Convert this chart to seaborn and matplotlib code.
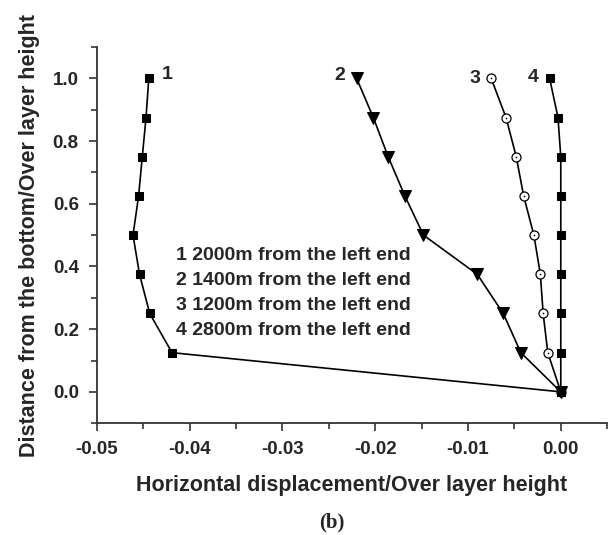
import matplotlib
matplotlib.use("Agg")
import matplotlib.pyplot as plt
import seaborn as sns
import pandas as pd
from matplotlib.ticker import MultipleLocator

sns.set_theme(style="ticks")
plt.rcParams['font.family'] = ['Liberation Sans', 'DejaVu Sans']
plt.rcParams['font.weight'] = 'bold'

heights = [0.0, 0.125, 0.25, 0.375, 0.5, 0.625, 0.75, 0.875, 1.0]
s1 = [0.0, -0.0419, -0.0443, -0.0454, -0.0461, -0.0455, -0.0451, -0.0447, -0.0444]
s2 = [0.0, -0.0043, -0.0062, -0.0090, -0.0148, -0.0168, -0.0186, -0.0202, -0.0220]
s3 = [0.0, -0.0014, -0.0019, -0.0022, -0.0029, -0.0040, -0.0048, -0.0059, -0.0075]
s4 = [0.0, 0.0, 0.0, 0.0, 0.0, 0.0, 0.0, -0.0003, -0.0012]
series_ids = ["1", "2", "3", "4"]
legend_lines = ["1 2000m from the left end", "2 1400m from the left end",
                "3 1200m from the left end", "4 2800m from the left end"]

fig = plt.figure(figsize=(6.09, 5.35), dpi=100)
ax = fig.add_axes([0.159, 0.209, 0.838, 0.703])

styles = {
    "1": dict(marker="s", markersize=6, markerfacecolor="black", markeredgecolor="black"),
    "2": dict(marker="v", markersize=8, markerfacecolor="black", markeredgecolor="black"),
    "3": dict(marker="o", markersize=6.5, markerfacecolor="white", markeredgecolor="black", markeredgewidth=0.9),
    "4": dict(marker="s", markersize=6, markerfacecolor="black", markeredgecolor="black"),
}
for sid, xs in zip(series_ids, [s1, s2, s3, s4]):
    df = pd.DataFrame({"x": xs, "y": heights})
    sns.lineplot(data=df, x="x", y="y", sort=False, estimator=None, ax=ax,
                 color="black", linewidth=1.2, **styles[sid])
    if sid == "3":
        sns.scatterplot(data=df[df.x != 0], x="x", y="y", ax=ax, color="black",
                        s=1.5, marker="o", linewidth=0, zorder=5)

# series labels near top points
label_offsets = {"1": (13, 3), "2": (-12, 2), "3": (-12, 0), "4": (-12, 1)}
for sid, xs in zip(series_ids, [s1, s2, s3, s4]):
    dx, dy = label_offsets[sid]
    ax.annotate(sid, (xs[-1], heights[-1]), xytext=(dx, dy), textcoords="offset points",
                ha="center", va="center", fontsize=14, fontweight="bold")

for i, line in enumerate(legend_lines):
    ax.text(0.156, 0.445 - i * 0.0665, line, transform=ax.transAxes, fontsize=14,
            fontweight="bold", va="center", ha="left")

ax.set_xlim(-0.05, 0.005)
ax.set_ylim(-0.1, 1.1)
ax.xaxis.set_major_locator(MultipleLocator(0.01))
ax.xaxis.set_minor_locator(MultipleLocator(0.005))
ax.yaxis.set_major_locator(MultipleLocator(0.2))
ax.yaxis.set_minor_locator(MultipleLocator(0.1))
ax.set_xticks([-0.05, -0.04, -0.03, -0.02, -0.01, 0.0])
ax.set_xticklabels(["-0.05", "-0.04", "-0.03", "-0.02", "-0.01", "0.00"])
ax.set_yticks([0.0, 0.2, 0.4, 0.6, 0.8, 1.0])
ax.set_yticklabels(["0.0", "0.2", "0.4", "0.6", "0.8", "1.0"])
for lab in ax.get_xticklabels() + ax.get_yticklabels():
    lab.set_fontweight("bold")
ax.tick_params(which="major", length=6, width=1.2, labelsize=13.5, color="#333333", direction="out", pad=7)
ax.tick_params(which="minor", length=4, width=1.2, color="#333333", direction="out")
sns.despine(ax=ax)
for sp in ["left", "bottom"]:
    ax.spines[sp].set_linewidth(1.3)
    ax.spines[sp].set_color("#333333")

ax.set_xlabel("Horizontal displacement/Over layer height", fontsize=15.5, fontweight="bold", labelpad=12)
ax.set_ylabel("Distance from the bottom/Over layer height", fontsize=15.5, fontweight="bold", labelpad=9)
fig.text(0.545, 0.024, "(b)", fontsize=15, fontweight="bold", family="Liberation Serif", ha="center", va="center")

fig.savefig("out.png", dpi=100)
